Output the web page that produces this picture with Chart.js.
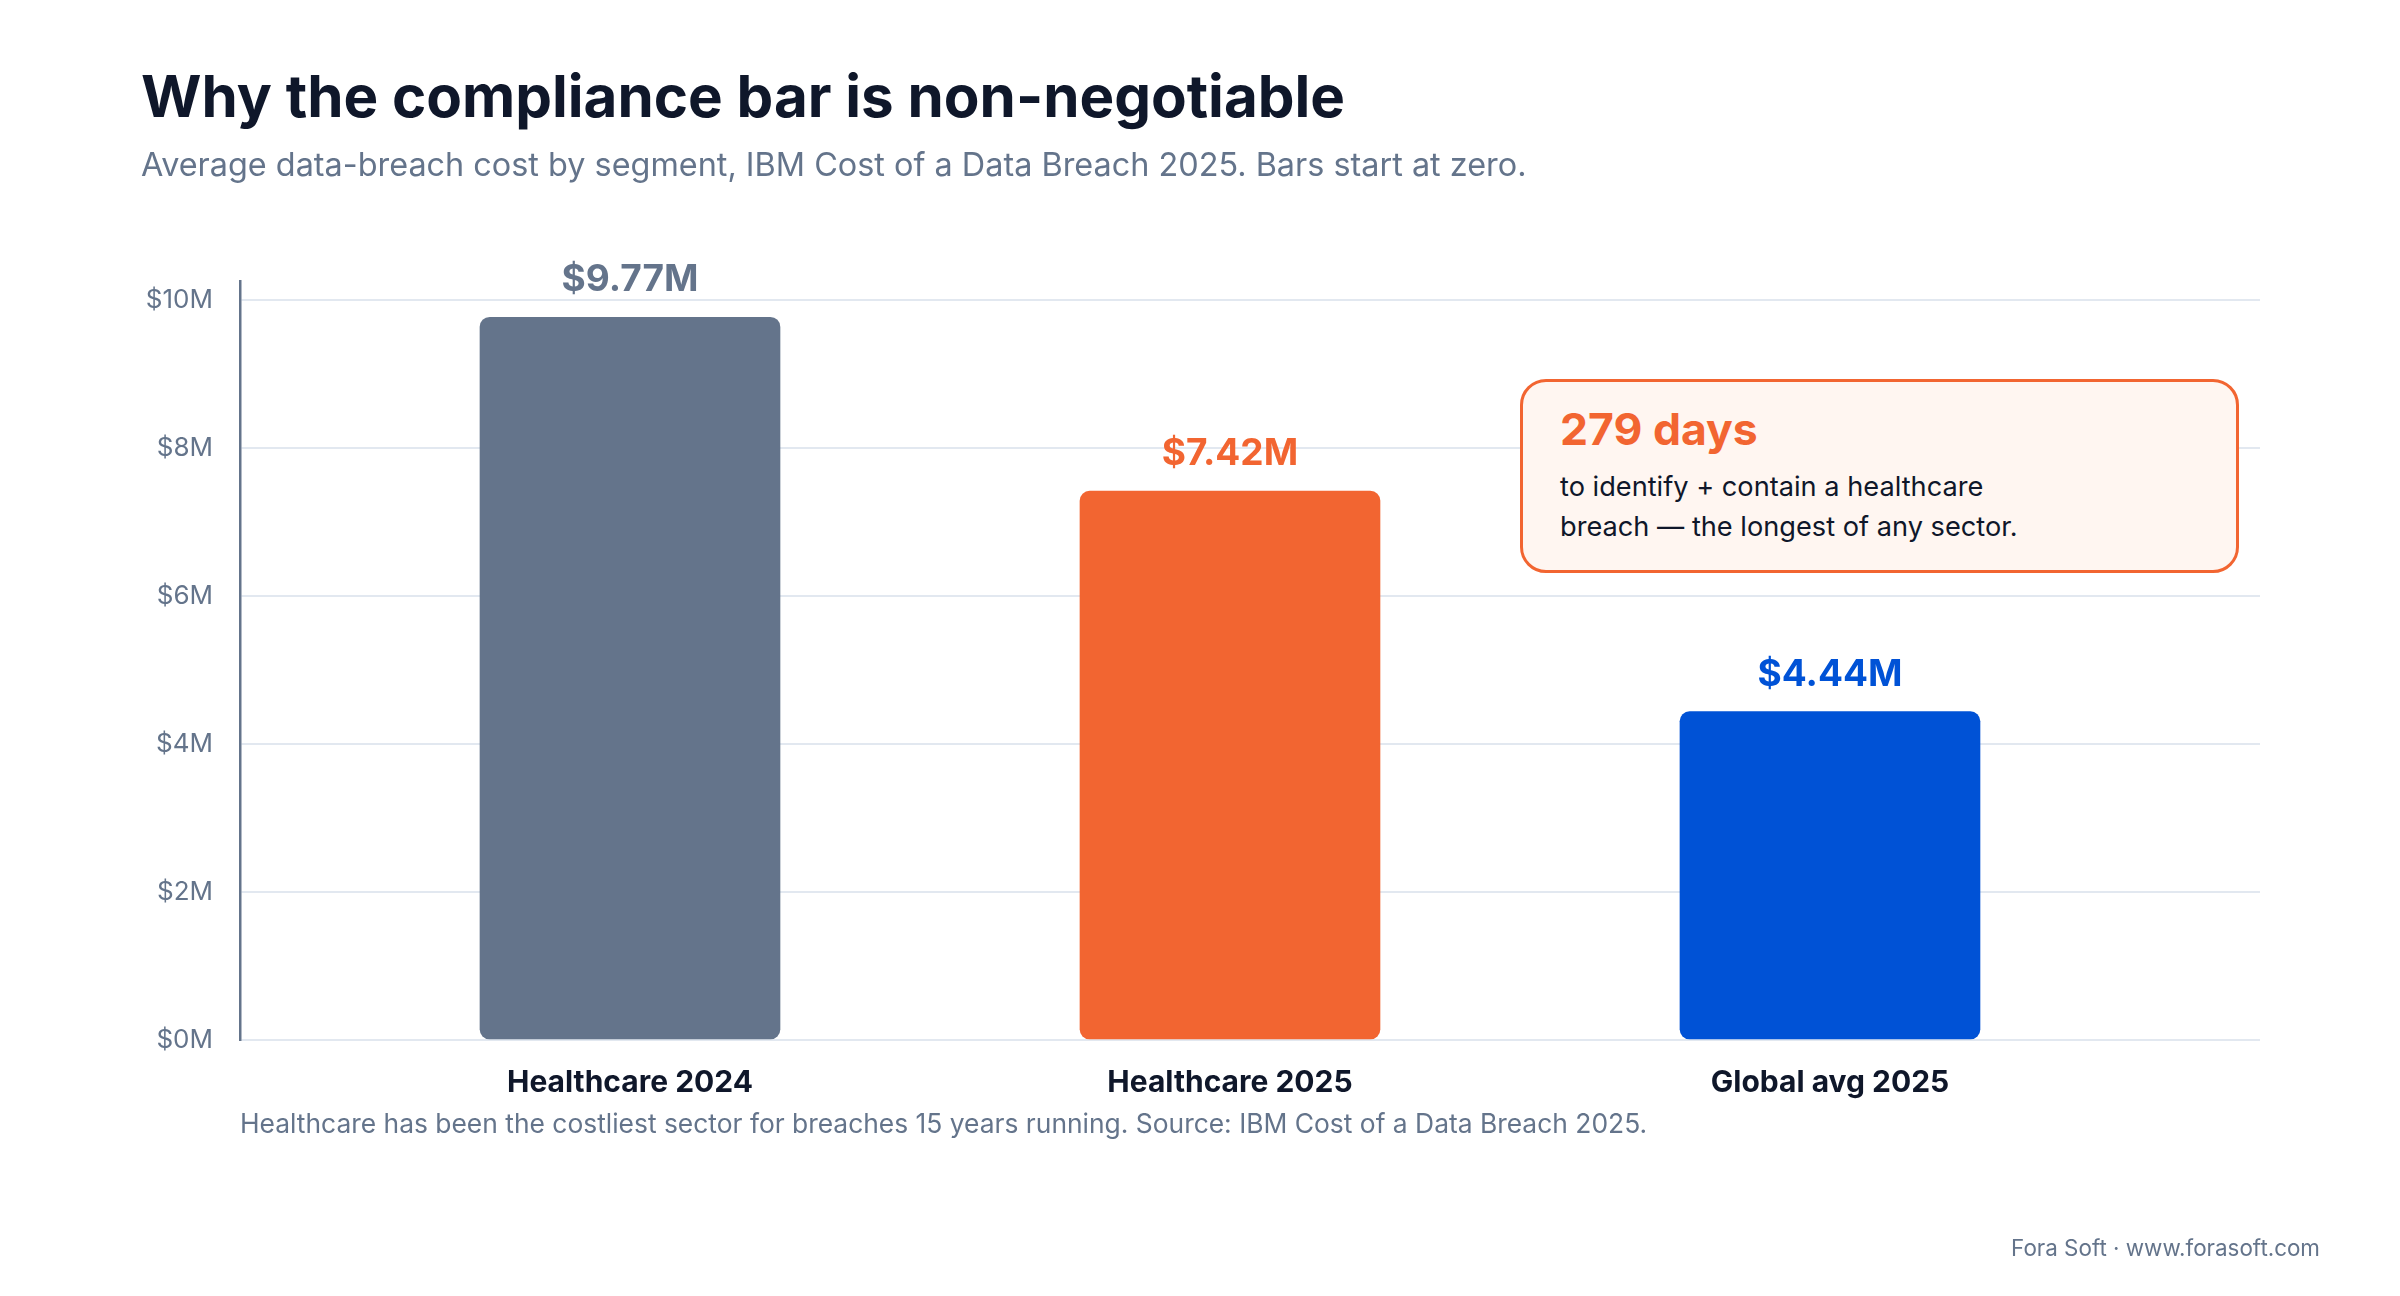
<!DOCTYPE html>
<html>
<head>
<meta charset="utf-8">
<script src="https://cdn.jsdelivr.net/npm/chart.js@4.4.1/dist/chart.umd.min.js"></script>
<style>
  html, body { margin: 0; padding: 0; background: #ffffff; }
  body { width: 2400px; height: 1296px; position: relative; overflow: hidden; font-family: Inter, "Noto Sans", sans-serif; }
  #chart { position: absolute; left: 0; top: 0; }
  .txt { position: absolute; white-space: nowrap; }
  #title { left: 141px; top: 61px; font-size: 58.3px; line-height: 70px; font-weight: 700; color: #0f172a; }
  #subtitle { left: 141px; top: 145px; font-size: 32.4px; line-height: 40px; color: #64748b; }
  #note { left: 240px; top: 1107px; font-size: 26.4px; line-height: 32px; color: #64748b; }
  #footer { right: 80px; top: 1234px; font-size: 22.4px; line-height: 28px; color: #64748b; }
  #callout { position: absolute; left: 1520px; top: 379px; width: 713px; height: 188px; border: 3px solid #f26531; border-radius: 26px; background: #fff6f1; }
  #callout .big { position: absolute; left: 37px; top: 21px; font-size: 44.5px; line-height: 52px; font-weight: 700; color: #f26531; white-space: nowrap; }
  #callout .body { position: absolute; left: 37px; top: 85px; font-size: 27.2px; line-height: 40px; color: #0f172a; white-space: nowrap; }
</style>
</head>
<body>
<canvas id="chart" width="2400" height="1296"></canvas>
<div class="txt" id="title">Why the compliance bar is non-negotiable</div>
<div class="txt" id="subtitle">Average data-breach cost by segment, IBM Cost of a Data Breach 2025. Bars start at zero.</div>
<div id="callout">
  <div class="big">279 days</div>
  <div class="body">to identify + contain a healthcare<br>breach — the longest of any sector.</div>
</div>
<div class="txt" id="note">Healthcare has been the costliest sector for breaches 15 years running. Source: IBM Cost of a Data Breach 2025.</div>
<div class="txt" id="footer">Fora Soft · www.forasoft.com</div>
<script>
// Chart data
const categories = ['Healthcare 2024', 'Healthcare 2025', 'Global avg 2025'];
const costs = [9.77, 7.42, 4.44];
const costLabels = ['$9.77M', '$7.42M', '$4.44M'];
const barColors = ['#64748b', '#f26531', '#0052d6'];
const yTickValues = [0, 2, 4, 6, 8, 10];
const yTickLabels = ['$0M', '$2M', '$4M', '$6M', '$8M', '$10M'];

// Value labels above each bar
const valueLabels = {
    id: 'valueLabels',
    afterDatasetsDraw(chart) {
        const ctx = chart.ctx;
        const meta = chart.getDatasetMeta(0);
        ctx.save();
        ctx.font = '700 37px Inter, "Noto Sans", sans-serif';
        ctx.textAlign = 'center';
        ctx.textBaseline = 'alphabetic';
        meta.data.forEach((bar, i) => {
            ctx.fillStyle = barColors[i];
            ctx.fillText(costLabels[i], bar.x, bar.y - 26);
        });
        ctx.restore();
    }
};

const ctx = document.getElementById('chart').getContext('2d');
new Chart(ctx, {
    type: 'bar',
    data: {
        datasets: [{
            data: costs.map((v, i) => ({ x: i, y: v })),
            backgroundColor: barColors,
            borderRadius: 10,
            borderSkipped: false,
            barThickness: 300
        }]
    },
    options: {
        responsive: false,
        devicePixelRatio: 1,
        animation: false,
        layout: { padding: { top: 281, right: 140, left: 0, bottom: 0 } },
        plugins: {
            legend: { display: false },
            tooltip: { enabled: false }
        },
        scales: {
            x: {
                type: 'linear',
                offset: false,
                min: -0.65,
                max: 2.7167,
                afterBuildTicks: scale => { scale.ticks = categories.map((c, i) => ({ value: i })); },
                afterFit: scale => { scale.height = 256; },
                grid: { display: false, drawTicks: false, offset: false },
                border: { display: false },
                ticks: {
                    padding: 25,
                    color: '#0f172a',
                    font: { family: 'Inter', size: 30, weight: '700' },
                    callback: value => categories[value]
                }
            },
            y: {
                min: 0,
                max: 10.26,
                afterBuildTicks: scale => { scale.ticks = yTickValues.map(v => ({ value: v })); },
                afterFit: scale => { scale.width = 240; },
                grid: { color: '#e2e8f0', lineWidth: 2, drawTicks: false },
                border: { display: true, color: '#64748b', width: 2.5 },
                ticks: {
                    padding: 27,
                    color: '#64748b',
                    font: { family: 'Inter', size: 26 },
                    callback: (value, index) => yTickLabels[index]
                }
            }
        }
    },
    plugins: [valueLabels]
});
</script>
</body>
</html>
